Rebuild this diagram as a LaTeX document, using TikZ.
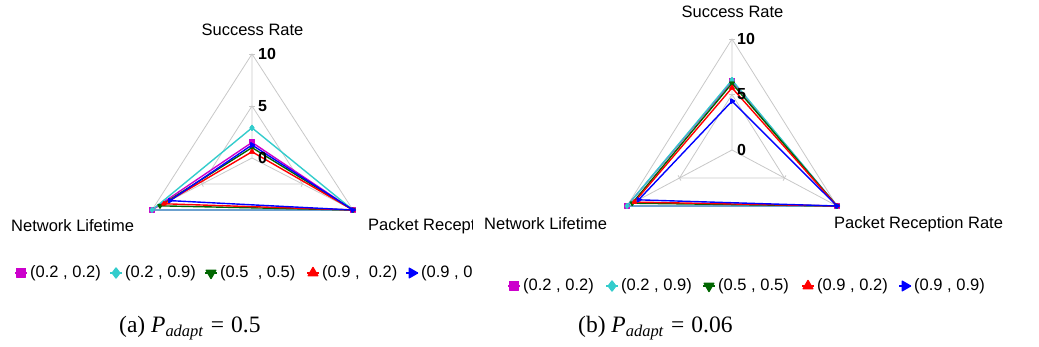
\documentclass[tikz,border=0pt]{standalone}
\usepackage{fontspec}
\setsansfont{Liberation Sans}
\newfontfamily\capfont{Liberation Serif}
\usetikzlibrary{calc,plotmarks}
\definecolor{cmag}{RGB}{204,0,204}
\definecolor{ccyan}{RGB}{51,204,204}
\definecolor{cgreen}{RGB}{0,102,0}
\definecolor{cred}{RGB}{255,0,0}
\definecolor{cblue}{RGB}{0,0,255}
\definecolor{cgrid}{RGB}{200,200,200}
\newcommand\radargrid[1]{%
  \draw[gridline] (t#1) -- (l#1) -- (r#1) -- cycle;
  \draw[gridline] ($(c#1)!0.5!(t#1)$) -- ($(c#1)!0.5!(l#1)$) -- ($(c#1)!0.5!(r#1)$) -- cycle;
  \draw[gridline] (c#1) -- (t#1) (c#1) -- (l#1) (c#1) -- (r#1);
  \foreach \ax in {t,l,r}{
    \foreach \lv in {0.5,1}{
      \coordinate (tk) at ($(c#1)!\lv!(\ax#1)$);
      \draw[gridline] ($(tk)!3pt!90:(c#1)$) -- ($(tk)!3pt!-90:(c#1)$);
    }
  }
}
\newcommand\series[5]{%
  \coordinate (#2s) at ($(c#2)!#3/10!(t#2)$);
  \coordinate (#2l) at ($(c#2)!#4/10!(l#2)$);
  \coordinate (#2r) at ($(c#2)!#5/10!(r#2)$);
  \draw[#1] plot coordinates {(#2s) (#2l) (#2r) (#2s)};
}
\newcommand\legitem[5]{% style, x of marker, y, text, mark size
  \coordinate (lgA) at (#2-6,#3);
  \coordinate (lgB) at (#2+6,#3);
  \coordinate (lgC) at (#2,#3);
  \draw[#1, line width=1.2pt] (lgA) -- (lgB);
  \path[#1, mark size=#5] plot coordinates {(lgC)};
  \node[txt, anchor=west] at (#2+9,#3) {#4};
}
\begin{document}
\begin{tikzpicture}[x=1pt,y=-1pt,
  txt/.style={font=\sffamily\fontsize{16.5}{19}\selectfont, text=black, inner sep=0pt},
  num/.style={font=\sffamily\bfseries\fontsize{16}{18}\selectfont, inner sep=0pt, anchor=west},
  gridline/.style={draw=cgrid, line width=0.8pt},
  ser/.style={line width=1.4pt, mark size=2.3pt, line join=round},
  smag/.style={ser, color=cmag, mark=square*},
  scyan/.style={ser, color=ccyan, mark=diamond*},
  sgreen/.style={ser, color=cgreen, mark=triangle*, mark options={rotate=180}},
  sred/.style={ser, color=cred, mark=triangle*},
  sblue/.style={ser, color=cblue, mark=triangle*, mark options={rotate=-90}},
  captxt/.style={font=\capfont\fontsize{23.5}{27}\selectfont, inner sep=0pt}
]
\useasboundingbox (0,0) rectangle (1039,347);

% ---------------- chart (a)
\begin{scope}
\clip (0,0) rectangle (472,300);
\coordinate (ca) at (252,158);
\coordinate (ta) at (252,54);
\coordinate (la) at (152,210);
\coordinate (ra) at (353,210);
\radargrid{a}
\series{smag}{a}{1.5}{10}{10}
\series{scyan}{a}{2.9}{10}{10}
\series{sgreen}{a}{1.0}{9.2}{10}
\series{sred}{a}{0.6}{8.8}{10}
\series{sblue}{a}{1.25}{8.2}{10}
\node[num] (a10) at (258,54) {10};
\node[num] (a5) at (258,106) {5};
\node[num] (a0) at (258,158) {0};
\node[txt] (asr) at (252.5,30) {Success Rate};
\node[txt, anchor=west] (anl) at (11,226) {Network Lifetime};
\node[txt, anchor=west] (apr) at (368,226) {Packet Recept};
\legitem{smag}{21}{273}{(0.2 , 0.2)}{4.5pt}
\legitem{scyan}{116}{273}{(0.2 , 0.9)}{5pt}
\legitem{sgreen}{211}{273}{(0.5\ \ , 0.5)}{5.5pt}
\legitem{sred}{313}{273}{(0.9 ,\ \ 0.2)}{5.5pt}
\legitem{sblue}{412}{273}{(0.9 , 0.9)}{5.5pt}
\end{scope}

% ---------------- chart (b)
\coordinate (cb) at (732,150);
\coordinate (tb) at (732,39);
\coordinate (lb) at (627,206);
\coordinate (rb) at (837,206);
\radargrid{b}
\series{smag}{b}{6.2}{10}{10}
\series{scyan}{b}{6.3}{10}{10}
\series{sgreen}{b}{6.0}{9.5}{10}
\series{sred}{b}{5.6}{9.3}{10}
\series{sblue}{b}{4.4}{8.9}{10}
\node[num] (b10) at (737,39) {10};
\node[num] (b5) at (737,94) {5};
\node[num] (b0) at (737,150) {0};
\node[txt] (bsr) at (732.5,12) {Success Rate};
\node[txt, anchor=west] (bnl) at (484,224) {Network Lifetime};
\node[txt, anchor=west] (bpr) at (834,224) {Packet Reception Rate};
\legitem{smag}{514}{286}{(0.2 , 0.2)}{4.5pt}
\legitem{scyan}{612}{286}{(0.2 , 0.9)}{5pt}
\legitem{sgreen}{709}{286}{(0.5 , 0.5)}{5.5pt}
\legitem{sred}{808}{286}{(0.9 , 0.2)}{5.5pt}
\legitem{sblue}{905}{286}{(0.9 , 0.9)}{5.5pt}

% ---------------- captions
\node[captxt, anchor=west] (capa) at (119,328) {(a) \textit{P}\textsubscript{\textit{adapt}}\hspace{0.3em}=\hspace{0.3em}0.5};
\node[captxt, anchor=west] (capb) at (578,328) {(b) \textit{P}\textsubscript{\textit{adapt}}\hspace{0.3em}=\hspace{0.3em}0.06};
\end{tikzpicture}
\end{document}
